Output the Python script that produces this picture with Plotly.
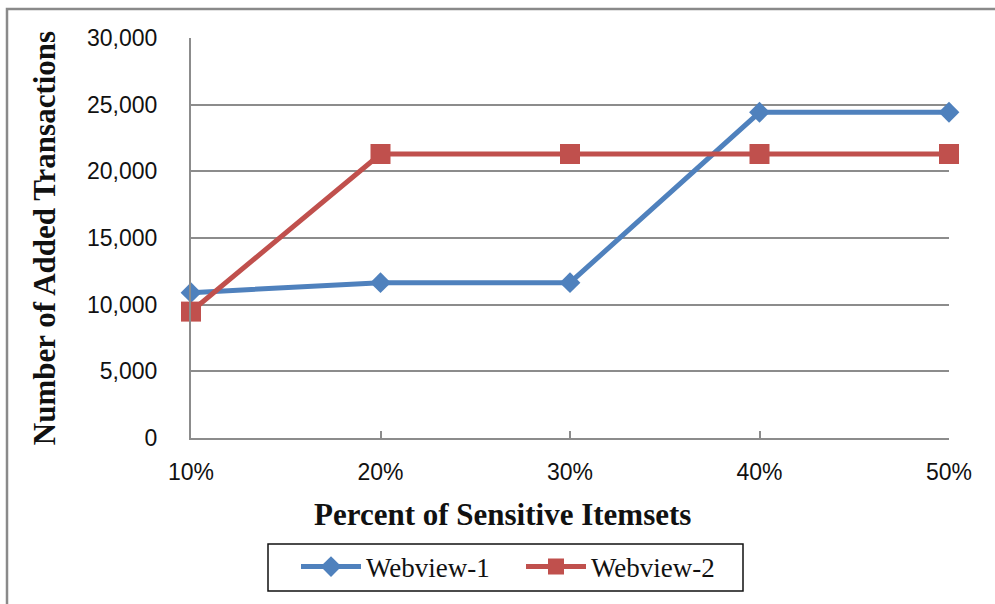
import plotly.graph_objects as go

# Percent of sensitive itemsets hidden
percent_labels = ["10%", "20%", "30%", "40%", "50%"]

# Number of added transactions per dataset
webview1 = [10900, 11650, 11650, 24430, 24430]
webview2 = [9480, 21300, 21300, 21300, 21300]

y_ticks = [0, 5000, 10000, 15000, 20000, 25000, 30000]
y_tick_text = ["0", "5,000", "10,000", "15,000", "20,000", "25,000", "30,000"]

BLUE = "#4F81BD"
RED = "#C0504D"
GRID = "#8C8C8C"
INK = "#111111"

fig = go.Figure()
fig.add_trace(go.Scatter(
    x=percent_labels, y=webview1, name="Webview-1",
    mode="lines+markers",
    line=dict(color=BLUE, width=5),
    marker=dict(symbol="diamond", size=16, color=BLUE),
    cliponaxis=False,
))
fig.add_trace(go.Scatter(
    x=percent_labels, y=webview2, name="Webview-2",
    mode="lines+markers",
    line=dict(color=RED, width=5),
    marker=dict(symbol="square", size=20, color=RED),
    cliponaxis=False,
))

L, R, T, B = 191, 46, 38, 166
W, H = 995, 604
pw, ph = W - L - R, H - T - B


def px_x(x):
    return (x - L) / pw


def px_y(y):
    return (T + ph - y) / ph


# Outer chart frame (runs off the right and bottom edges)
fig.add_shape(
    type="rect", xref="paper", yref="paper",
    x0=px_x(7), x1=px_x(W + 10), y0=px_y(H + 10), y1=px_y(9),
    line=dict(color="#8A8A8A", width=2.5), layer="below",
)

# Frame around the legend
fig.add_shape(
    type="rect", xref="paper", yref="paper",
    x0=px_x(268), x1=px_x(743), y0=px_y(591), y1=px_y(544),
    line=dict(color=INK, width=1.5), layer="above",
)

# X-axis title, centred on the whole chart
fig.add_annotation(
    text="<b>Percent of Sensitive Itemsets</b>",
    xref="paper", yref="paper", x=px_x(502), y=px_y(514),
    xanchor="center", yanchor="middle", showarrow=False,
    font=dict(family="Liberation Serif", size=31, color=INK),
)

fig.update_layout(
    width=W, height=H,
    margin=dict(l=L, r=R, t=T, b=B),
    paper_bgcolor="white", plot_bgcolor="white",
    font=dict(family="Liberation Sans", color=INK),
    showlegend=True,
    legend=dict(
        orientation="h",
        x=px_x(296), xanchor="left",
        y=px_y(567), yanchor="middle",
        borderwidth=0,
        bgcolor="rgba(0,0,0,0)",
        font=dict(family="Liberation Serif", size=27, color=INK),
        itemwidth=60,
        entrywidth=150, entrywidthmode="pixels",
    ),
    xaxis=dict(
        type="category",
        range=[0, 4],
        showgrid=False,
        showline=True, linecolor=GRID, linewidth=2,
        ticks="inside", ticklen=7, tickcolor=GRID, tickwidth=2,
        tickfont=dict(family="Liberation Sans", size=23, color=INK),
        ticklabelstandoff=12,
    ),
    yaxis=dict(
        range=[0, 30000],
        tickvals=y_ticks, ticktext=y_tick_text,
        showgrid=True, gridcolor=GRID, gridwidth=2,
        showline=True, linecolor=GRID, linewidth=2,
        zeroline=False,
        ticks="",
        tickfont=dict(family="Liberation Sans", size=23, color=INK),
        ticklabelstandoff=27,
        title=dict(
            text="<b>Number of Added Transactions</b>",
            font=dict(family="Liberation Serif", size=31, color=INK),
            standoff=22,
        ),
    ),
)

fig.write_html("out.html")
